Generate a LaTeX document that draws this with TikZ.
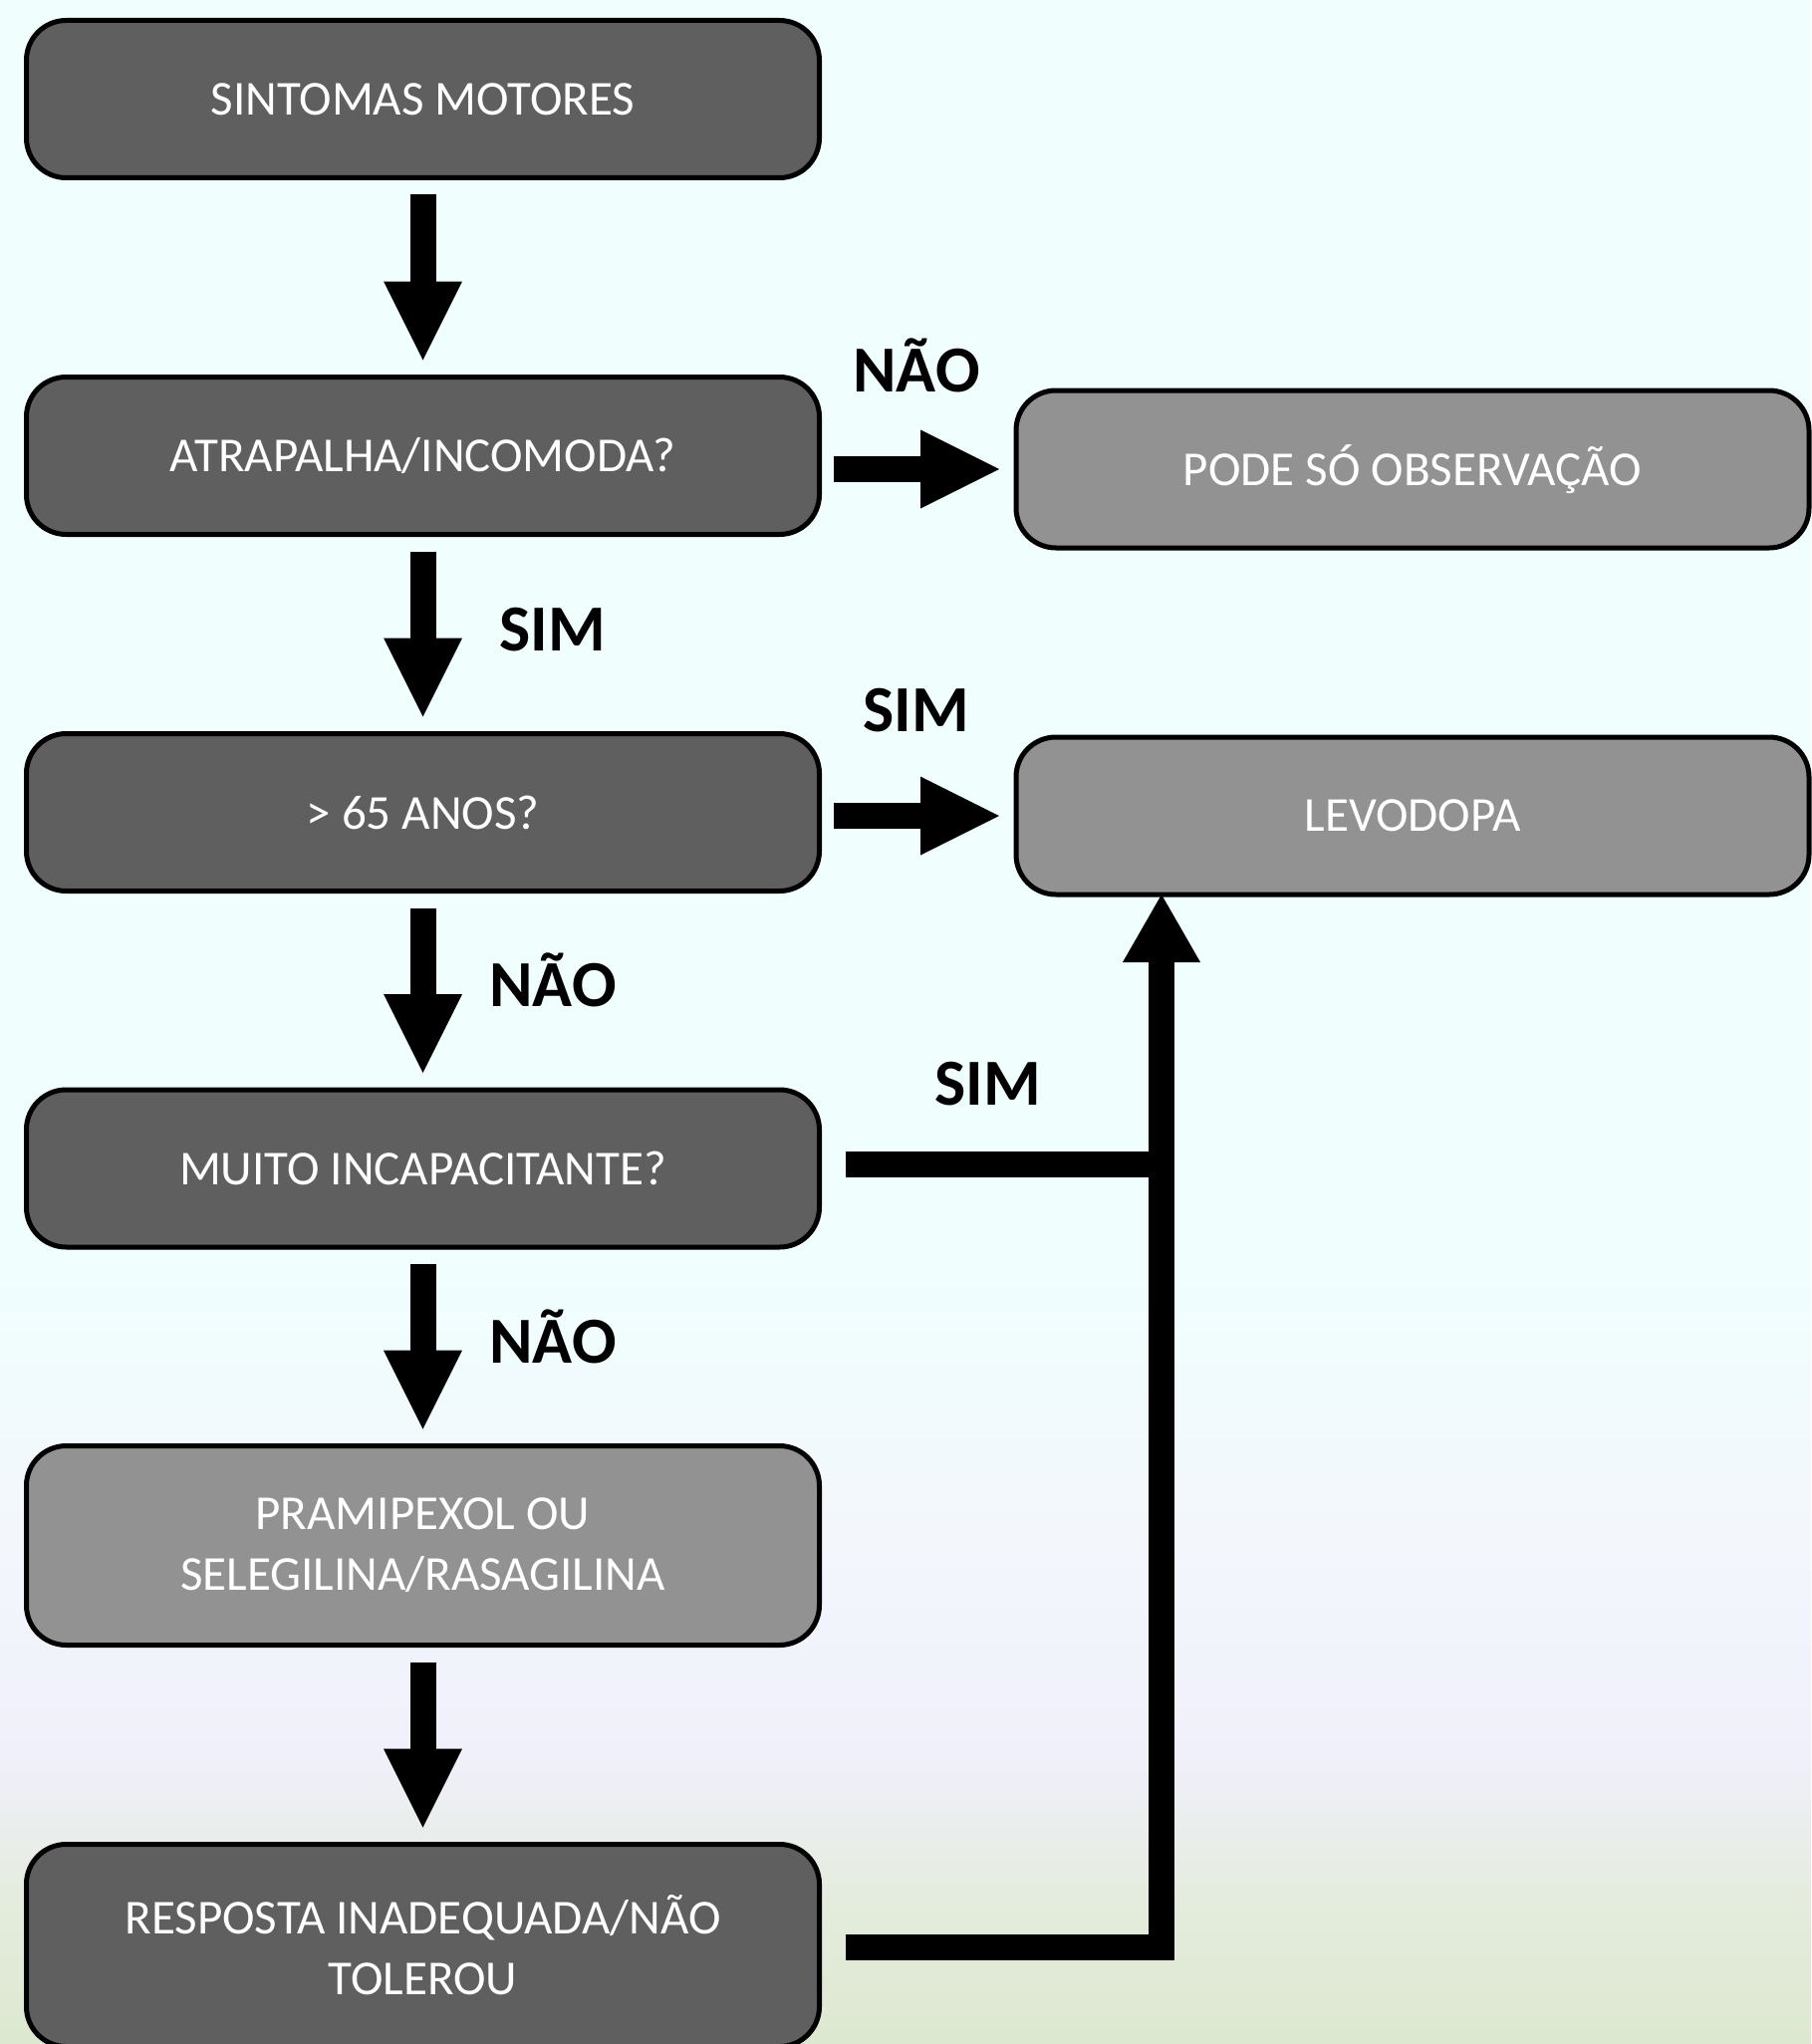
\documentclass[tikz,border=0pt]{standalone}
\usepackage{fontspec}
\setmainfont{Carlito}
\usetikzlibrary{arrows.meta,calc}

\definecolor{boxdark}{HTML}{5F5F5F}
\definecolor{boxlight}{HTML}{929292}
\definecolor{bgtop}{HTML}{F0FEFE}
\definecolor{bgmid}{HTML}{F3F7FC}
\definecolor{bglav}{HTML}{F0F0FA}
\definecolor{bggreen}{HTML}{E4ECDD}
\definecolor{bgbot}{HTML}{DDE8D0}

% TikZ maps the 25bp..75bp band of a shading onto the filled path
\pgfdeclareverticalshading{pagebg}{100bp}{%
  color(0bp)=(bgbot); color(25bp)=(bgbot); color(28.5bp)=(bggreen);
  color(32bp)=(bglav); color(37.5bp)=(bgmid); color(44bp)=(bgtop);
  color(100bp)=(bgtop)}

\begin{document}
\begin{tikzpicture}[x=1pt,y=-1pt,
  box/.style={draw=black, line width=5pt, rounded corners=40pt,
    minimum width=796pt, minimum height=158pt, inner sep=0pt, outer sep=0pt,
    text=white, font=\fontsize{49}{61}\selectfont, align=center},
  dark/.style={box, fill=boxdark},
  light/.style={box, fill=boxlight},
  flow/.style={line width=26pt,
    -{Triangle[width=79pt,length=79pt,line width=0pt]}},
  link/.style={line width=26pt, line join=miter},
  tag/.style={font=\fontsize{66}{70}\selectfont\bfseries, anchor=base,
    inner sep=0pt}
]
% page and background
\useasboundingbox (0,0) rectangle (1818,2052);
\fill[shading=pagebg] (0,0) rectangle (1818,2052);

% main column
\node[dark] (b1) at (424.5,99.5) {SINTOMAS MOTORES};
\node[dark] (b2) at (424.5,457.5) {ATRAPALHA/INCOMODA?};
\node[dark] (b3) at (424.5,815.5) {> 65 ANOS?};
\node[dark] (b4) at (424.5,1173) {MUITO INCAPACITANTE?};
\node[light, minimum height=200pt] (b5) at (424.5,1551.5)
  {PRAMIPEXOL OU\\SELEGILINA/RASAGILINA};
\node[dark, minimum height=203pt] (b6) at (424.5,1953)
  {RESPOSTA INADEQUADA/NÃO\\TOLEROU};

% outcomes on the right
\node[light] (obs) at (1418,471) {PODE SÓ OBSERVAÇÃO};
\node[light] (levo) at (1418,819) {LEVODOPA};

% downward steps
\draw[flow] ($(b1.south)+(0,17)$) -- ($(b2.north)+(0,-17)$);
\draw[flow] ($(b2.south)+(0,17)$) -- ($(b3.north)+(0,-17)$);
\draw[flow] ($(b3.south)+(0,17)$) -- ($(b4.north)+(0,-17)$);
\draw[flow] ($(b4.south)+(0,17)$) -- ($(b5.north)+(0,-17)$);
\draw[flow] ($(b5.south)+(0,17)$) -- ($(b6.north)+(0,-17)$);

% sideways outcomes
\draw[flow] ($(b2.east |- obs.west)+(14,0)$) -- ($(obs.west)+(-17,0)$);
\draw[flow] ($(b3.east |- levo.west)+(14,0)$) -- ($(levo.west)+(-17,0)$);

% return path to levodopa
\coordinate (corner) at (1166,1954.5);
\draw[link, -{Triangle[width=78pt,length=68pt,line width=0pt]}]
  ($(b6.east)+(26,1.5)$) -- (corner) -- (corner |- levo.south);
\draw[link] ($(b4.east)+(26,-4)$) -- ($(b4.east -| corner)+(0,-4)$);

% answers
\node[tag] (no1) at (920,393) {NÃO};
\node[tag] (yes1) at (555,653) {SIM};
\node[tag] (yes2) at (920,734) {SIM};
\node[tag] (no2) at (555,1010) {NÃO};
\node[tag] (yes3) at (992,1109) {SIM};
\node[tag] (no3) at (555,1368) {NÃO};
\end{tikzpicture}
\end{document}
